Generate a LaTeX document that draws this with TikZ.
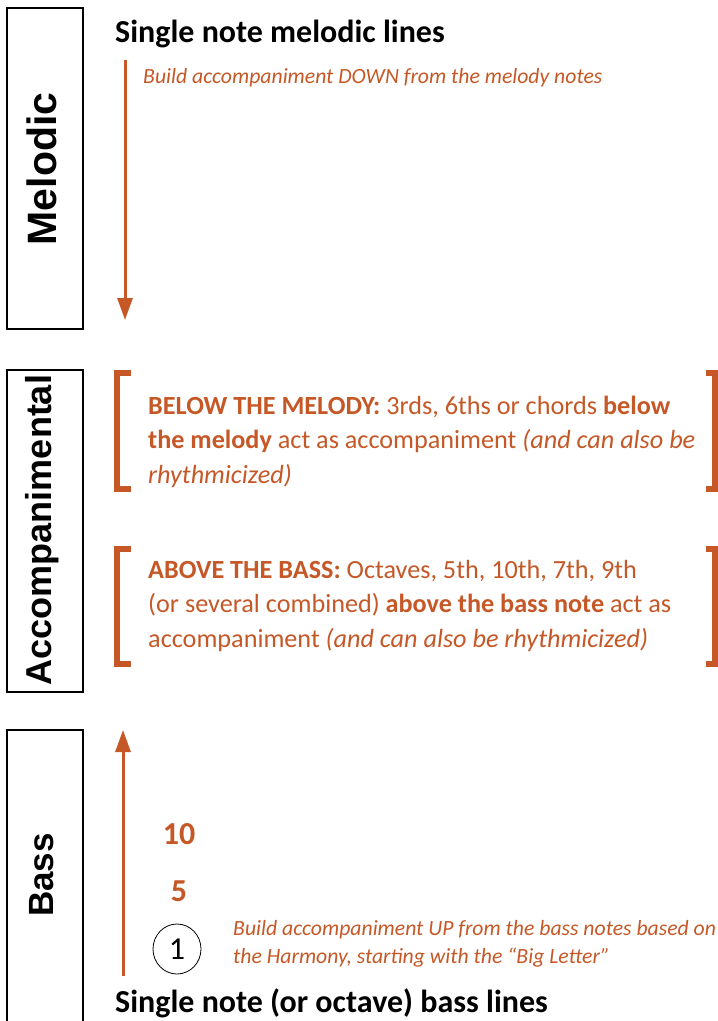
\documentclass[tikz,border=0pt]{standalone}
\usepackage{fontspec}
\setmainfont{Carlito}
\newfontfamily\sidefont{Liberation Sans}
\usetikzlibrary{arrows.meta,shapes.geometric}
\definecolor{rust}{RGB}{197,88,38}

\begin{document}
\begin{tikzpicture}[x=1pt,y=-1pt,
    sidebox/.style={draw=black,line width=2pt},
    sidelabel/.style={rotate=90,font=\sidefont\bfseries\fontsize{#1}{#1}\selectfont},
    heading/.style={anchor=base west,inner sep=0pt,font=\bfseries\fontsize{32}{32}\selectfont},
    hint/.style={anchor=base west,inner sep=0pt,align=left,text=rust,font=\itshape\fontsize{21.7}{27.5}\selectfont},
    body/.style={anchor=base west,inner sep=0pt,align=left,text=rust,font=\fontsize{26.2}{34.5}\selectfont},
    flow/.style={draw=rust,line width=3pt,-{Triangle[length=22pt,width=15pt]}},
    bracket/.style={draw=rust,line width=6pt,line join=miter},
    degree/.style={anchor=base,inner sep=0pt,text=rust,font=\bfseries\fontsize{32}{32}\selectfont}]
    \useasboundingbox (0,0) rectangle (718,1021);

    % side boxes
    \draw[sidebox] (7,8) rectangle (83,329);
    \draw[sidebox] (7,370) rectangle (83,692);
    \draw[sidebox] (7,730) rectangle (83,1040);
    \node[sidelabel=41] (melodic) at (42,169) {Melodic};
    \node[sidelabel=36] (accomp) at (42,530) {Accompanimental};
    \node[sidelabel=35] (bass) at (42,875) {Bass};

    % melodic part
    \node[heading] (toptitle) at (115,42) {Single note melodic lines};
    \coordinate (downstart) at (125,60);
    \coordinate (downend) at (125,320);
    \draw[flow] (downstart) -- (downend);
    \node[hint] (downhint) at (143,83) {Build accompaniment DOWN from the melody notes};

    % accompanimental part (nodes placed at the baseline of the last line)
    \draw[bracket] (131,373) -- (117,373) -- (117,489) -- (131,489);
    \draw[bracket] (706,373) -- (715,373) -- (715,489) -- (706,489);
    \node[body] (belowmel) at (148,483) {\textbf{BELOW THE MELODY:} 3rds, 6ths or chords \textbf{below}\\
        \textbf{the melody} act as accompaniment \textit{(and can also be}\\
        \textit{rhythmicized)}};
    \draw[bracket] (131,549) -- (117,549) -- (117,664) -- (131,664);
    \draw[bracket] (706,549) -- (715,549) -- (715,664) -- (706,664);
    \node[body] (abovebass) at (148,647) {\textbf{ABOVE THE BASS:} Octaves, 5th, 10th, 7th, 9th\\
        (or several combined) \textbf{above the bass note} act as\\
        accompaniment \textit{(and can also be rhythmicized)}};

    % bass part
    \coordinate (upstart) at (123,976);
    \coordinate (upend) at (123,730);
    \draw[flow] (upstart) -- (upend);
    \node[degree] (tenth) at (179,844) {10};
    \node[degree] (fifth) at (179,901) {5};
    \node[draw=black,thick,ellipse,minimum width=48pt,minimum height=50pt,inner sep=0pt,
        font=\fontsize{32}{32}\selectfont] (root) at (177,949) {1};
    \node[hint] (uphint) at (233,963) {Build accompaniment UP from the bass notes based on\\
        the Harmony, starting with the “Big Letter”};
    \node[heading] (bottitle) at (115,1012) {Single note (or octave) bass lines};
\end{tikzpicture}
\end{document}
